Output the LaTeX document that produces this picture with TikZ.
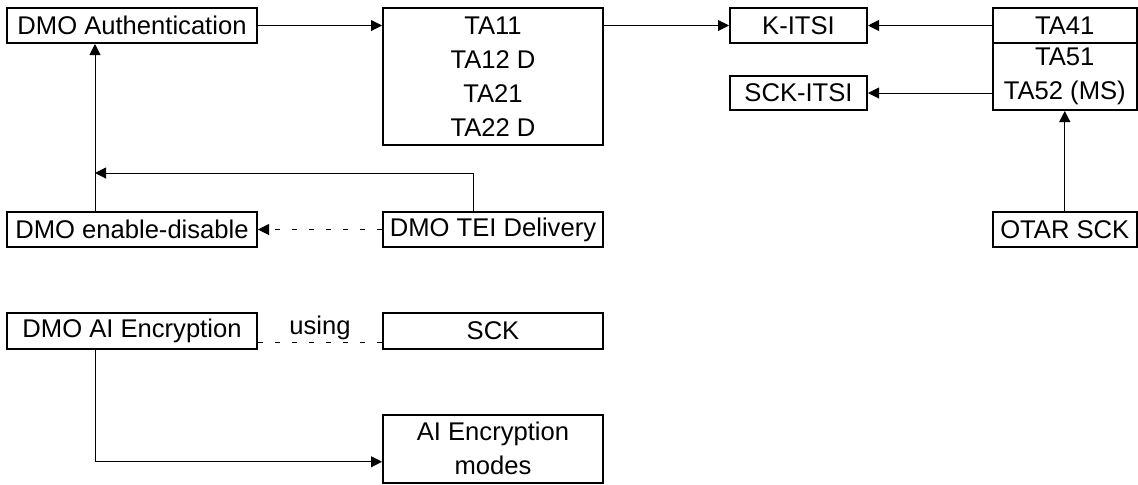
\documentclass[tikz,border=0pt]{standalone}
\usepackage{fontspec}
\setmainfont{Liberation Sans}
\usetikzlibrary{arrows.meta}
\tikzset{box/.style= {draw, line width=1pt, inner sep=0pt, align=center, font=\fontsize{12.8}{17}\selectfont}}
\tikzset{link/.style= {line width=0.5pt}}
\tikzset{dash link/.style= {line width=0.5pt, dash pattern=on 2.5pt off 6pt}}

\begin{document}
\begin{tikzpicture}[x=0.5pt, y=-0.5pt, >={Triangle[length=5.5pt, width=5.5pt]}]
        \useasboundingbox (0,0) rectangle (1138,484);

        \node[box, minimum width=125pt, minimum height=17.5pt](auth)at(132,25.5){DMO Authentication};
        \node[box, minimum width=110pt, minimum height=68.5pt](ta1)at(493,76.5){TA11\\TA12 D\\TA21\\TA22 D};
        \node[box, minimum width=68.5pt, minimum height=17.5pt](kitsi)at(798.5,25.5){K-ITSI};
        \node[box, minimum width=68.5pt, minimum height=17pt](sckitsi)at(798.5,93){SCK-ITSI};
        \node[box, minimum width=71.75pt, minimum height=17.5pt](ta4)at(1064.75,25.5){TA41};
        \node[box, minimum width=71.75pt, minimum height=33.5pt](ta5)at(1064.75,76.5){TA51\\TA52 (MS)};

        \node[box, minimum width=125pt, minimum height=17.5pt](enable)at(132,229.5){DMO enable-disable};
        \node[box, minimum width=110pt, minimum height=17.5pt](tei)at(493,229.5){DMO TEI Delivery};
        \node[box, minimum width=71.75pt, minimum height=17.5pt](otar)at(1064.75,229.5){OTAR SCK};

        \node[box, minimum width=125pt, minimum height=18pt](aienc)at(132,331){DMO AI Encryption};
        \node[box, minimum width=110pt, minimum height=18pt](sck)at(493,331){SCK};
        \node[box, minimum width=110pt, minimum height=33.75pt](modes)at(493,448.75){AI Encryption\\modes};

        \coordinate(join)at(95,173);

        \draw[link, ->](auth.east)--(auth.east -| ta1.west);
        \draw[link, ->](ta1.east |- kitsi)--(kitsi.west);
        \draw[link, ->](ta4.west)--(kitsi.east);
        \draw[link, ->](ta5.west |- sckitsi)--(sckitsi.east);
        \draw[link, ->](otar.north)--(ta5.south);

        \draw[link, ->](join |- enable.north)--(join |- auth.south);
        \draw[link, ->]([xshift=-10pt]tei.north) |- (join);
        \draw[dash link, ->](tei.west)--(enable.east);

        \draw[dash link]([yshift=-5.5pt]aienc.east)--([yshift=-5.5pt]sck.west)
            node[midway, above=-2.5pt, font=\fontsize{12.8}{17}\selectfont](using){using};
        \draw[link, ->](join |- aienc.south) |- ([yshift=-6.5pt]modes.west);
    \end{tikzpicture}
\end{document}
